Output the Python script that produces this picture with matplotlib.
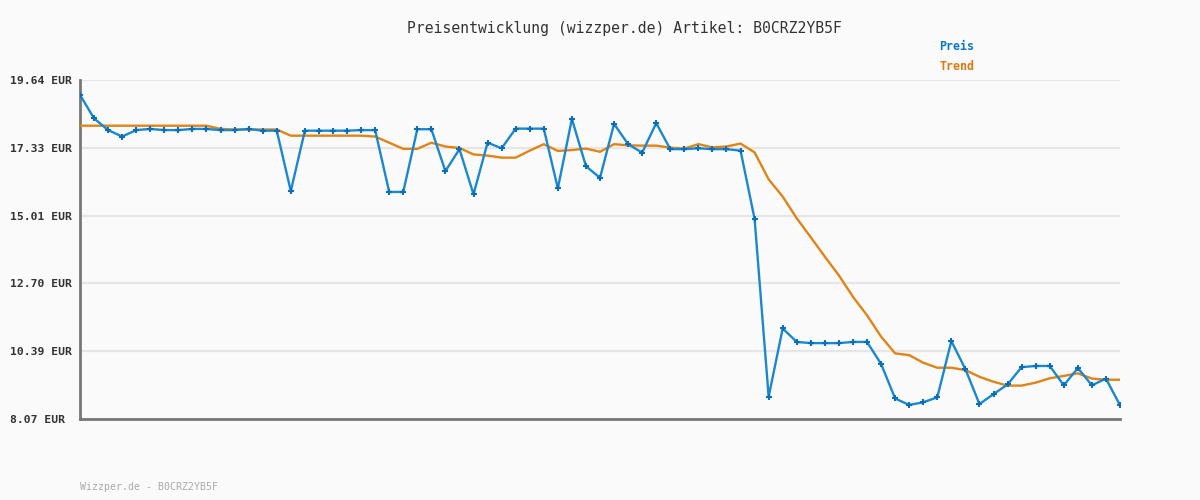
import matplotlib.pyplot as plt

# Preis- und Trendwerte (EUR)
preis = [19.13, 18.33, 17.93, 17.71, 17.93, 17.97, 17.93, 17.93, 17.97, 17.97,
         17.93, 17.93, 17.97, 17.91, 17.91, 15.85, 17.91, 17.91, 17.91, 17.91,
         17.93, 17.93, 15.82, 15.82, 17.96, 17.96, 16.53, 17.28, 15.74, 17.50,
         17.31, 17.98, 17.98, 17.98, 15.94, 18.31, 16.70, 16.30, 18.14, 17.45,
         17.16, 18.17, 17.28, 17.28, 17.31, 17.28, 17.28, 17.23, 14.90, 8.83,
         11.16, 10.70, 10.66, 10.66, 10.66, 10.70, 10.70, 9.95, 8.77, 8.55,
         8.64, 8.81, 10.73, 9.77, 8.58, 8.92, 9.25, 9.84, 9.88, 9.88,
         9.22, 9.81, 9.22, 9.45, 8.54]
trend = [18.08, 18.08, 18.08, 18.08, 18.08, 18.08, 18.08, 18.08, 18.08, 18.08,
         17.97, 17.95, 17.95, 17.95, 17.95, 17.74, 17.74, 17.74, 17.74, 17.74,
         17.74, 17.71, 17.50, 17.29, 17.29, 17.50, 17.37, 17.32, 17.10, 17.06,
         16.99, 16.99, 17.23, 17.45, 17.22, 17.25, 17.30, 17.19, 17.45, 17.41,
         17.40, 17.40, 17.33, 17.30, 17.45, 17.34, 17.37, 17.47, 17.17, 16.25,
         15.66, 14.92, 14.27, 13.61, 12.97, 12.24, 11.61, 10.88, 10.31, 10.25,
         9.99, 9.82, 9.82, 9.74, 9.51, 9.34, 9.21, 9.21, 9.31, 9.46,
         9.54, 9.63, 9.45, 9.41, 9.41]
y_ticks = [8.07, 10.39, 12.70, 15.01, 17.33, 19.64]
y_labels = ['8.07 EUR', '10.39 EUR', '12.70 EUR', '15.01 EUR', '17.33 EUR', '19.64 EUR']

plt.rcParams['font.family'] = 'DejaVu Sans Mono'

fig = plt.figure(figsize=(12, 5), dpi=100, facecolor='#fafafa')
ax = fig.add_axes([80 / 1200, 1 - 419 / 500, 1040 / 1200, 339 / 500])
ax.set_facecolor('#fafafa')

x = list(range(len(preis)))
ax.plot(x, trend, color='#e08418', lw=1.7, zorder=3)
ax.plot(x, preis, color='#1a88d0', lw=1.7, marker='+', ms=5, mew=1.5,
        mec='#0a6fb8', zorder=4)

ax.set_xlim(0, len(preis) - 1)
ax.set_ylim(8.07, 19.64)
ax.set_xticks([])
ax.set_yticks(y_ticks)
ax.set_yticklabels(y_labels, fontsize=8.2, fontweight='bold', color='#333333', ha='left')
ax.tick_params(axis='y', length=0, pad=50.4)
ax.grid(axis='y', color='#e6e6e6', lw=1.6)
ax.set_axisbelow(True)

for s in ['top', 'right']:
    ax.spines[s].set_visible(False)
for s in ['left', 'bottom']:
    ax.spines[s].set_color('#777777')
    ax.spines[s].set_linewidth(2)

fig.text(624 / 1200, 1 - 28 / 500, 'Preisentwicklung (wizzper.de) Artikel: B0CRZ2YB5F',
         ha='center', va='center', fontsize=10.6, color='#333333')
fig.text(939 / 1200, 1 - 47 / 500, 'Preis', ha='left', va='center',
         fontsize=8.4, fontweight='bold', color='#0a78c8')
fig.text(939 / 1200, 1 - 67 / 500, 'Trend', ha='left', va='center',
         fontsize=8.4, fontweight='bold', color='#dd7711')
fig.text(80 / 1200, 1 - 487 / 500, 'Wizzper.de - B0CRZ2YB5F', ha='left', va='center',
         fontsize=7.1, color='#aaaaaa')

fig.savefig('out.png', dpi=100, facecolor=fig.get_facecolor())
